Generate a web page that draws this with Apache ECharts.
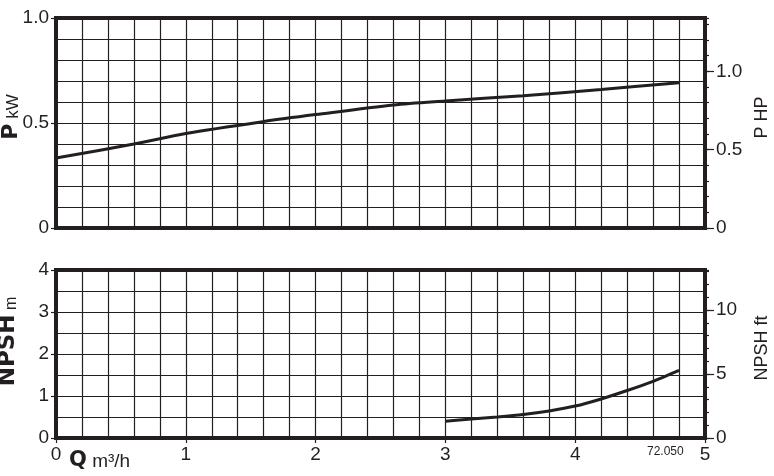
<!DOCTYPE html>
<html>
<head>
<meta charset="utf-8">
<script src="https://cdn.jsdelivr.net/npm/echarts@6/dist/echarts.min.js"></script>
<style>html,body{margin:0;padding:0;background:#fff}#c{width:774px;height:476px}</style>
</head>
<body>
<div id="c"></div>
<script>
// Power curve (kW) vs flow Q (m³/h)
var flowP = [0, 0.6, 1.0, 1.6, 2.0, 2.6, 3.0, 3.6, 4.2, 4.8];
var powerKW = [0.333, 0.40, 0.45, 0.507, 0.54, 0.586, 0.605, 0.630, 0.660, 0.692];
// NPSH curve (m) vs flow Q (m³/h)
var flowNPSH = [3.0, 3.2, 3.4, 3.6, 3.8, 4.0, 4.2, 4.4, 4.6, 4.8];
var npshM = [0.40, 0.45, 0.50, 0.56, 0.645, 0.76, 0.93, 1.13, 1.35, 1.61];
// Tick labels
var qTicks = ['0', '1', '2', '3', '4', '5'];
var kwTicks = ['0', '0.5', '1.0'];
var hpTicks = ['0', '0.5', '1.0'];
var npshMTicks = ['0', '1', '2', '3', '4'];
var npshFtTicks = ['0', '5', '10'];

var KW_PER_HP = 0.7457;
var M_PER_FT = 0.3048;
var INK = '#231f20';
var FONT = 'Liberation Sans';

function pick(list, v) {
  for (var i = 0; i < list.length; i++) {
    if (Math.abs(parseFloat(list[i]) - v) < 1e-6) return list[i];
  }
  return '';
}
var gridLine = {show: true, lineStyle: {color: INK, width: 1.2}};
var lbl = {color: INK, fontFamily: FONT, fontSize: 19};

var chart = echarts.init(document.getElementById('c'), null, {renderer: 'canvas'});
chart.setOption({
  animation: false,
  backgroundColor: '#fff',
  grid: [
    {left: 56, top: 18, width: 649, height: 210, containLabel: false, outerBoundsMode: 'none',
     show: true, borderWidth: 4, borderColor: INK, backgroundColor: 'transparent'},
    {left: 56, top: 270, width: 649, height: 168, containLabel: false, outerBoundsMode: 'none',
     show: true, borderWidth: 4, borderColor: INK, backgroundColor: 'transparent'}
  ],
  title: [
    {left: 69, top: 450, padding: 0, text: '{q|Q}{u| m³/h}', textStyle: {fontWeight: 'normal', rich: {
      q: {fontFamily: 'DejaVu Sans', fontWeight: 'bold', fontSize: 21, color: INK, verticalAlign: 'bottom'},
      u: {fontFamily: FONT, fontWeight: 'normal', fontSize: 19, color: INK, verticalAlign: 'bottom'}
    }}},
    {left: 647, top: 446, padding: 0, text: '72.050', textStyle: {fontFamily: FONT, fontSize: 12, fontWeight: 'normal', color: INK}}
  ],
  xAxis: [
    {gridIndex: 0, type: 'value', min: 0, max: 5, interval: 1,
     minorTick: {show: false, splitNumber: 5}, splitLine: gridLine, minorSplitLine: gridLine,
     axisLine: {show: false}, axisTick: {show: false}, axisLabel: {show: false}},
    {gridIndex: 1, type: 'value', min: 0, max: 5, interval: 1,
     minorTick: {show: false, splitNumber: 5}, splitLine: gridLine, minorSplitLine: gridLine,
     axisLine: {show: false}, axisTick: {show: true, length: 5, lineStyle: {color: INK, width: 1.2}},
     axisLabel: Object.assign({margin: 7, formatter: function (v) { return pick(qTicks, v); }}, lbl)}
  ],
  yAxis: [
    {gridIndex: 0, type: 'value', position: 'left', min: 0, max: 1, interval: 0.5,
     minorTick: {show: false, splitNumber: 5}, splitLine: gridLine, minorSplitLine: gridLine,
     axisLine: {show: false}, axisTick: {show: true, length: 5, lineStyle: {color: INK, width: 1.2}},
     axisLabel: Object.assign({margin: 7, formatter: function (v) { return pick(kwTicks, v); }}, lbl),
     name: '{b|P}{r| kW}', nameLocation: 'middle', nameRotate: 90, nameGap: 34, nameMoveOverlap: false,
     nameTextStyle: {padding: [0, 0, 0, 12], rich: {
       b: {fontFamily: 'DejaVu Sans', fontWeight: 'bold', fontSize: 22, color: INK, verticalAlign: 'bottom'},
       r: {fontFamily: FONT, fontSize: 17, color: INK, verticalAlign: 'bottom'}}}},
    {gridIndex: 0, type: 'value', position: 'right', min: 0, max: 1 / KW_PER_HP, interval: 0.1,
     splitLine: {show: false}, axisLine: {show: false},
     axisTick: {show: true, length: 4, lineStyle: {color: INK, width: 1.2}}, axisLabel: {show: false}},
    {gridIndex: 0, type: 'value', position: 'right', min: 0, max: 1 / KW_PER_HP, interval: 0.5,
     splitLine: {show: false}, axisLine: {show: false},
     axisTick: {show: true, length: 9, lineStyle: {color: INK, width: 1.2}},
     axisLabel: Object.assign({margin: 11, showMaxLabel: false, formatter: function (v) { return pick(hpTicks, v); }}, lbl),
     name: 'P HP', nameLocation: 'middle', nameRotate: 90, nameGap: 48, nameMoveOverlap: false,
     nameTextStyle: {fontFamily: FONT, fontSize: 18, color: INK, padding: [0, 0, 0, 11]}},
    {gridIndex: 1, type: 'value', position: 'left', min: 0, max: 4, interval: 1,
     minorTick: {show: false, splitNumber: 2}, splitLine: gridLine, minorSplitLine: gridLine,
     axisLine: {show: false}, axisTick: {show: true, length: 5, lineStyle: {color: INK, width: 1.2}},
     axisLabel: Object.assign({margin: 7, formatter: function (v) { return pick(npshMTicks, v); }}, lbl),
     name: '{b|NPSH}{r| m}', nameLocation: 'middle', nameRotate: 90, nameGap: 36, nameMoveOverlap: false,
     nameTextStyle: {padding: [0, 0, 0, 25], rich: {
       b: {fontFamily: 'DejaVu Sans', fontWeight: 'bold', fontSize: 23, color: INK, verticalAlign: 'bottom'},
       r: {fontFamily: FONT, fontSize: 16, color: INK, verticalAlign: 'bottom'}}}},
    {gridIndex: 1, type: 'value', position: 'right', min: 0, max: 4 / M_PER_FT, interval: 1,
     splitLine: {show: false}, axisLine: {show: false},
     axisTick: {show: true, length: 4, lineStyle: {color: INK, width: 1.2}}, axisLabel: {show: false}},
    {gridIndex: 1, type: 'value', position: 'right', min: 0, max: 4 / M_PER_FT, interval: 5,
     splitLine: {show: false}, axisLine: {show: false},
     axisTick: {show: true, length: 9, lineStyle: {color: INK, width: 1.2}},
     axisLabel: Object.assign({margin: 11, showMaxLabel: false, formatter: function (v) { return pick(npshFtTicks, v); }}, lbl),
     name: 'NPSH ft', nameLocation: 'middle', nameRotate: 90, nameGap: 48, nameMoveOverlap: false,
     nameTextStyle: {fontFamily: FONT, fontSize: 18, color: INK, padding: [0, 0, 0, 12]}}
  ],
  series: [
    {type: 'line', xAxisIndex: 0, yAxisIndex: 0, smooth: 0.3, symbol: 'none',
     lineStyle: {color: INK, width: 3}, data: flowP.map(function (q, i) { return [q, powerKW[i]]; })},
    {type: 'line', xAxisIndex: 1, yAxisIndex: 3, smooth: 0.25, symbol: 'none',
     lineStyle: {color: INK, width: 3}, data: flowNPSH.map(function (q, i) { return [q, npshM[i]]; })}
  ]
});
</script>
</body>
</html>
